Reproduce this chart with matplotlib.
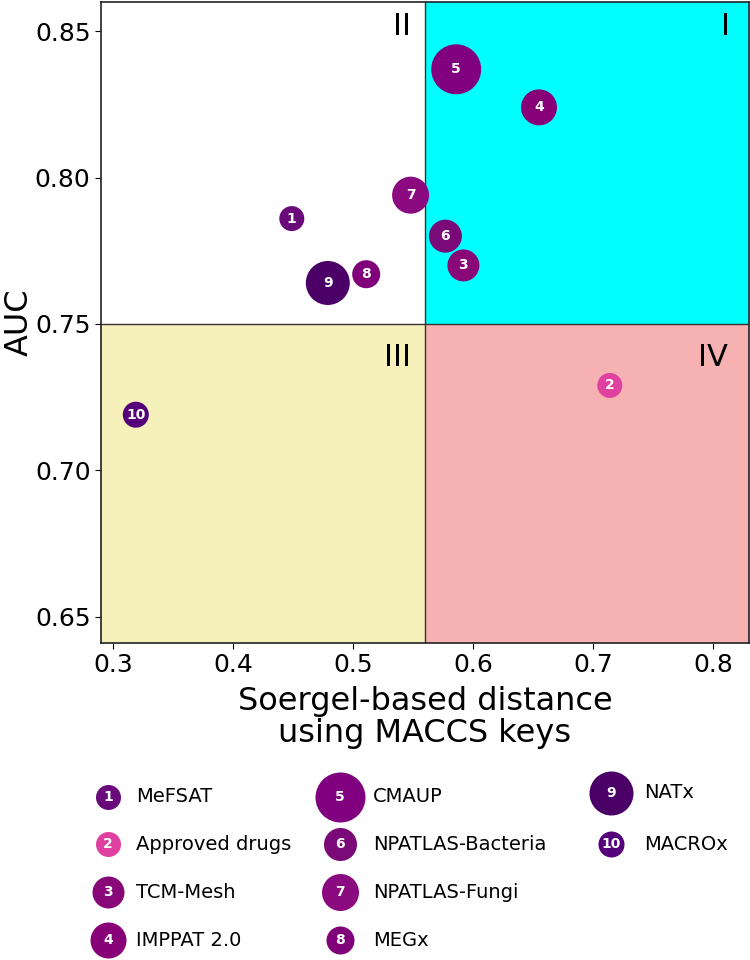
import matplotlib.pyplot as plt

# ── data ──────────────────────────────────────────────────────────────────────
ids      = [1, 2, 3, 4, 5, 6, 7, 8, 9, 10]
names    = ["MeFSAT", "Approved drugs", "TCM-Mesh", "IMPPAT 2.0", "CMAUP",
            "NPATLAS-Bacteria", "NPATLAS-Fungi", "MEGx", "NATx", "MACROx"]
distance = [0.449, 0.714, 0.592, 0.655, 0.586, 0.577, 0.548, 0.511, 0.479, 0.319]
auc      = [0.786, 0.729, 0.770, 0.824, 0.837, 0.780, 0.794, 0.767, 0.764, 0.719]
radius   = [12.5, 12.5, 16, 18, 25, 16.5, 18.5, 14, 22, 13]   # bubble radius (px)
colours  = ["#6a0a7a", "#e0409f", "#880878", "#880078", "#800080",
            "#7a0a78", "#8b0a7f", "#80007a", "#4b0068", "#55007a"]

X_SPLIT, Y_SPLIT = 0.56, 0.75
XLIM, YLIM = (0.29, 0.83), (0.641, 0.86)

def bubble_s(r):
    # radius in px at dpi 100 -> scatter area in pt^2
    return (2 * r * 0.72) ** 2

# ── figure ────────────────────────────────────────────────────────────────────
fig = plt.figure(figsize=(7.5, 9.6), dpi=100)
ax = fig.add_axes([101 / 750, 1 - 643 / 960, 648 / 750, 641 / 960])

y_frac = (Y_SPLIT - YLIM[0]) / (YLIM[1] - YLIM[0])
ax.axvspan(X_SPLIT, XLIM[1], ymin=y_frac, ymax=1, color="#00ffff", lw=0, zorder=0)
ax.axvspan(XLIM[0], X_SPLIT, ymin=0, ymax=y_frac,
           color="khaki", alpha=0.6, lw=0, zorder=0)
ax.axvspan(X_SPLIT, XLIM[1], ymin=0, ymax=y_frac,
           color="lightcoral", alpha=0.6, lw=0, zorder=0)
ax.axvline(X_SPLIT, color="#3a3030", lw=1, zorder=1)
ax.axhline(Y_SPLIT, color="#3a3030", lw=1, zorder=1)

ax.scatter(distance, auc, s=[bubble_s(r) for r in radius], c=colours,
           linewidths=0, zorder=3)
for i, x, y in zip(ids, distance, auc):
    ax.text(x, y, str(i), color="white", fontsize=10, fontweight="bold",
            ha="center", va="center", zorder=4)

for lab, x, y in [("II", 0.541, 0.8515), ("I", 0.81, 0.8515),
                  ("III", 0.537, 0.7385), ("IV", 0.80, 0.7385)]:
    ax.text(x, y, lab, fontsize=22, ha="center", va="center", zorder=2)

ax.set_xlim(*XLIM)
ax.set_ylim(*YLIM)
ax.set_xticks([0.3, 0.4, 0.5, 0.6, 0.7, 0.8])
ax.set_yticks([0.65, 0.70, 0.75, 0.80, 0.85])
ax.set_yticklabels(["0.65", "0.70", "0.75", "0.80", "0.85"])
ax.tick_params(labelsize=18, length=4)
ax.set_xlabel("Soergel-based distance\nusing MACCS keys", fontsize=23,
              linespacing=1.05, labelpad=6)
ax.set_ylabel("AUC", fontsize=23, labelpad=0)
for sp in ax.spines.values():
    sp.set_linewidth(1.2)
    sp.set_color("#222222")

# ── legend (drawn in its own pixel-scaled axes) ──────────────────────────────
lax = fig.add_axes([0, 0, 1, 1 - 770 / 960])
lax.set_xlim(0, 750)
lax.set_ylim(960, 770)
lax.axis("off")
col_x = [108, 340, 611]
txt_dx = [28, 33, 33]
row_y = [797, 844, 892, 940]
layout = [(0, 0), (0, 1), (0, 2), (0, 3), (1, 0), (1, 1), (1, 2), (1, 3),
          (2, 0), (2, 1)]
for k, (c, r) in enumerate(layout):
    x, y = col_x[c], row_y[r]
    if k == 8:
        y -= 4
    lax.scatter([x], [y], s=bubble_s(radius[k]), c=colours[k], linewidths=0,
                clip_on=False)
    lax.text(x, y, str(ids[k]), color="white", fontsize=10, fontweight="bold",
             ha="center", va="center")
    lax.text(x + txt_dx[c], y, names[k], fontsize=14, ha="left", va="center")

fig.savefig("out.png", dpi=100)
